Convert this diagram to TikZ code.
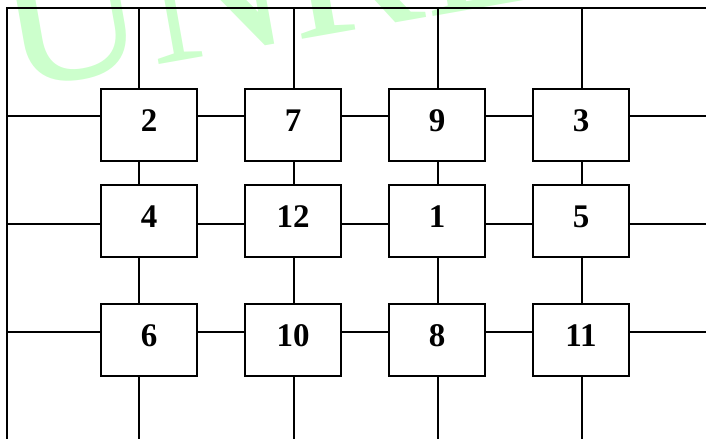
\documentclass[tikz,border=0pt]{standalone}
\usepackage{fontspec}
\setmainfont{Liberation Serif}
\definecolor{markgreen}{RGB}{204,255,204}
\tikzset{
  cellbox/.style={draw,line width=1pt,minimum width=48pt,minimum height=36pt,
    inner sep=0pt,text depth=4pt,font=\fontsize{16.5}{19}\selectfont\bfseries},
  wire/.style={line width=1pt},
}
\begin{document}
\begin{tikzpicture}[x=0.5pt,y=-0.5pt]
            \useasboundingbox (0,0) rectangle (706,439);
            \begin{scope}
                \clip (0,0) rectangle (706,439);
                \node[anchor=base west,rotate=10,inner sep=0pt,text=markgreen,
                      font=\fontsize{100}{110}\selectfont] (mark) at (11,91) {UNREGISTERED};
            \end{scope}
            \coordinate (tl) at (7,8);
            \coordinate (tr) at (706,8);
            \coordinate (bl) at (7,439);
            \draw[wire] (tr)--(tl)--(bl);
            \foreach \ry/\row [count=\r] in {125/{2,7,9,3},221/{4,12,1,5},340/{6,10,8,11}}
            {\foreach \lab [count=\c] in \row
                {\node[cellbox] (b\r\c) at ({5+144*\c},\ry) {\lab};}}
            \foreach \c/\vx in {1/139,2/294,3/438,4/582}
            {\coordinate (v\c) at (\vx,0);
             \draw[wire] (v\c |- tl)--(b1\c.north -| v\c);
             \draw[wire] (b1\c.south -| v\c)--(b2\c.north -| v\c);
             \draw[wire] (b2\c.south -| v\c)--(b3\c.north -| v\c);
             \draw[wire] (b3\c.south -| v\c)--(v\c |- bl);}
            \foreach \r/\hy in {1/116,2/224,3/332}
            {\coordinate (h\r) at (0,\hy);
             \draw[wire] (h\r -| tl)--(b\r1.west |- h\r);
             \foreach \c [evaluate=\c as \n using int(\c+1)] in {1,2,3}
                {\draw[wire] (b\r\c.east |- h\r)--(b\r\n.west |- h\r);}
             \draw[wire] (b\r4.east |- h\r)--(h\r -| tr);}
            \end{tikzpicture}
\end{document}
